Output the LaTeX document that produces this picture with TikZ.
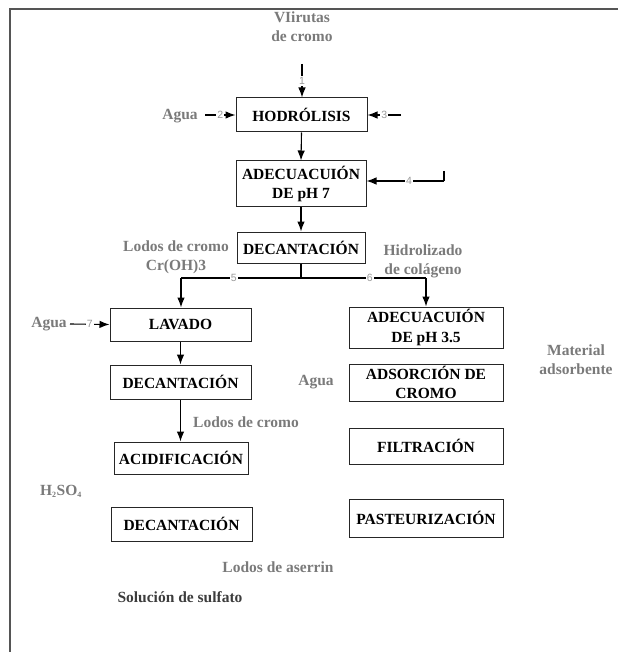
\documentclass[tikz,border=0pt]{standalone}
\usepackage{fontspec}
\setmainfont{Liberation Serif}
\newfontfamily\numfont{Liberation Sans}
\usetikzlibrary{arrows.meta}
\definecolor{lblgray}{HTML}{7A7A7A}
\definecolor{numgray}{HTML}{9A9A9A}
\definecolor{framegray}{HTML}{555555}
\definecolor{darklbl}{HTML}{3C3C3C}
\begin{document}
\begin{tikzpicture}[x=1pt,y=-1pt,
  box/.style={draw=black!85, line width=1pt, inner sep=0pt, align=center,
    font=\fontsize{15.5}{19.5}\selectfont\bfseries, text=black},
  lbl/.style={inner sep=0pt, align=center, font=\fontsize{15.5}{19}\selectfont\bfseries, text=lblgray},
  dlbl/.style={inner sep=0pt, align=center, font=\fontsize{15.5}{19}\selectfont\bfseries, text=darklbl},
  arr/.style={draw=black, line width=1.1pt, -{Latex[length=10pt,width=7.5pt]}},
  ln/.style={draw=black, line width=1.1pt},
  num/.style={fill=white, inner sep=1.2pt, text=numgray, font=\numfont\fontsize{10.5}{11}\selectfont}]
\useasboundingbox (0,0) rectangle (618,652);
\draw[framegray, line width=2pt] (10,652) -- (10,9) -- (618,9);

% boxes
\node[box, minimum width=131pt, minimum height=34pt] (hid) at (301.5,115) {HODRÓLISIS};
\node[box, minimum width=130pt, minimum height=46pt] (ad7) at (301,184) {ADECUACUIÓN\\DE pH 7};
\node[box, minimum width=128pt, minimum height=31pt] (dec1) at (301,247.5) {DECANTACIÓN};
\node[box, minimum width=141pt, minimum height=33pt] (lav) at (180.5,324.5) {LAVADO};
\node[box, minimum width=141pt, minimum height=34pt] (dec2) at (180.5,382) {DECANTACIÓN};
\node[box, minimum width=134pt, minimum height=32pt] (acid) at (181,458) {ACIDIFICACIÓN};
\node[box, minimum width=141pt, minimum height=34pt] (dec3) at (181.5,524) {DECANTACIÓN};
\node[box, minimum width=154pt, minimum height=41pt] (ad35) at (426,327.5) {ADECUACUIÓN\\DE pH 3.5};
\node[box, minimum width=154pt, minimum height=37pt] (ads) at (426,382.5) {ADSORCIÓN DE\\CROMO};
\node[box, minimum width=154pt, minimum height=36pt] (fil) at (426,446) {FILTRACIÓN};
\node[box, minimum width=154pt, minimum height=38pt] (pas) at (426,518) {PASTEURIZACIÓN};

% labels
\node[lbl] (viru) at (302,27) {VIirutas\\de cromo};
\node[lbl] (agua1) at (180,116) {Agua};
\node[lbl] (lodos1) at (176,257) {Lodos de cromo\\Cr(OH)3};
\node[lbl] (hidro) at (423,261) {Hidrolizado\\de colágeno};
\node[lbl] (agua2) at (49,324) {Agua};
\node[lbl] (agua3) at (316,382) {Agua};
\node[lbl] (mat) at (576,360) {Material\\adsorbente};
\node[lbl] (lodos2) at (246,422) {Lodos de cromo};
\node[lbl] (h2so4) at (61,491) {H\textsubscript{\fontsize{8}{8}\selectfont 2}SO\textsubscript{\fontsize{8}{8}\selectfont 4}};
\node[lbl] (aserr) at (278,567) {Lodos de aserrin};
\node[dlbl] (sulf) at (180,597) {Solución de sulfato};

% free ends
\coordinate (c1) at (302,64);
\coordinate (c2) at (205,115);
\coordinate (c3) at (401,115);
\coordinate (c4) at (444,171);
\coordinate (c4b) at (444,181);
\coordinate (c7) at (70,324);
\coordinate (br) at (301,278);
\coordinate (brl) at (181,278);
\coordinate (brr) at (426,278);

% connectors
\draw[arr] (c1) -- node[num]{1} (hid.north -| c1);
\draw[arr] (c2) -- node[num]{2} (hid.west);
\draw[arr] (c3) -- node[num]{3} (hid.east);
\draw[arr] (hid.south) -- (ad7.north);
\draw[ln] (c4) -- (c4b);
\draw[arr] (c4b) -- node[num, pos=0.45]{4} (ad7.east |- c4b);
\draw[arr] (ad7.south) -- (dec1.north);
\draw[ln] (dec1.south) -- (br);
\draw[ln] (br) -- node[num, pos=0.56]{5} (brl);
\draw[ln] (br) -- node[num, pos=0.55]{6} (brr);
\draw[arr] (brl) -- (lav.north -| brl);
\draw[arr] (brr) -- (ad35.north -| brr);
\draw[arr] (c7) -- node[num]{7} (lav.west);
\draw[arr] (lav.south) -- (dec2.north);
\draw[arr] (dec2.south) -- (acid.north -| dec2.south);
\end{tikzpicture}
\end{document}
